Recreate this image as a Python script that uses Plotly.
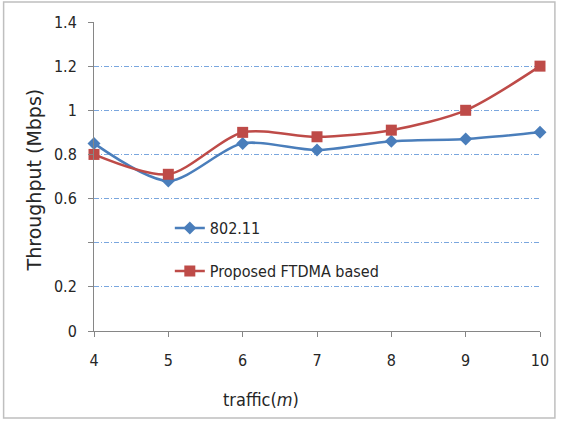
import plotly.graph_objects as go

# Throughput vs. traffic for the two MAC schemes
traffic = [4, 5, 6, 7, 8, 9, 10]
wifi_80211 = [0.85, 0.68, 0.85, 0.82, 0.86, 0.87, 0.90]
ftdma = [0.80, 0.71, 0.90, 0.88, 0.91, 1.00, 1.20]

y_ticks = [0, 0.2, 0.4, 0.6, 0.8, 1.0, 1.2, 1.4]
y_tick_text = ["0", "0.2", "", "0.6", "0.8", "1", "1.2", "1.4"]
x_ticks = [4, 5, 6, 7, 8, 9, 10]

BLUE = "#4a7ebb"
RED = "#be4b48"
NARROW = "Liberation Sans Narrow, DejaVu Sans Condensed, sans-serif"
TICK_FONT = dict(family=NARROW, size=16, color="#262626")

fig = go.Figure()
fig.add_trace(go.Scatter(
    x=traffic, y=wifi_80211, name="802.11", mode="lines+markers",
    line=dict(color=BLUE, width=2.5, shape="spline", smoothing=0.8),
    marker=dict(symbol="diamond", size=10, color=BLUE),
    cliponaxis=False, legend="legend",
))
fig.add_trace(go.Scatter(
    x=traffic, y=ftdma, name="Proposed FTDMA based", mode="lines+markers",
    line=dict(color=RED, width=2.5, shape="spline", smoothing=0.8),
    marker=dict(symbol="square", size=11, color=RED),
    cliponaxis=False, legend="legend2",
))

legend_common = dict(
    bgcolor="rgba(0,0,0,0)", borderwidth=0, xanchor="left", yanchor="middle",
    font=dict(family=NARROW, size=16, color="#262626"),
    itemwidth=30,
)

fig.update_layout(
    width=561, height=421,
    margin=dict(l=94, r=18, t=22, b=90),
    paper_bgcolor="white", plot_bgcolor="white",
    showlegend=True,
    legend=dict(x=0.17, y=(331 - 228) / 309, **legend_common),
    legend2=dict(x=0.17, y=(331 - 271) / 309, **legend_common),
    xaxis=dict(
        range=[4, 10], tickvals=x_ticks, ticks="outside", ticklen=5,
        tickcolor="#868686", showline=True, linecolor="#868686", linewidth=1,
        showgrid=False, zeroline=False, tickfont=TICK_FONT,
        ticklabelstandoff=10,
    ),
    yaxis=dict(
        range=[0, 1.4], tickvals=y_ticks, ticktext=y_tick_text,
        ticks="outside", ticklen=5, tickcolor="#868686",
        showline=True, linecolor="#868686", linewidth=1,
        showgrid=True, gridcolor="#7aa6de", griddash="5px,2px,1px,2px", gridwidth=1,
        zeroline=False, tickfont=TICK_FONT, ticklabelstandoff=8,
    ),
    annotations=[
        dict(
            text="traffic(<i>m</i>)", xref="paper", yref="paper",
            x=(262 - 94) / 449, y=(331 - 400) / 309, xanchor="center", yanchor="middle",
            showarrow=False, font=dict(family=NARROW, size=18, color="#262626"),
        ),
        dict(
            text="Throughput (Mbps)", xref="paper", yref="paper", textangle=-90,
            x=(34 - 94) / 449, y=(331 - 180) / 309, xanchor="center", yanchor="middle",
            showarrow=False,
            font=dict(family="DejaVu Sans, Verdana, sans-serif", size=19, color="#262626"),
        ),
    ],
    shapes=[dict(
        type="rect", xref="paper", yref="paper",
        x0=(3 - 94) / 449, x1=(558 - 94) / 449,
        y0=(331 - 418) / 309, y1=(331 - 2) / 309,
        line=dict(color="#bfbfbf", width=1.5), layer="below",
    )],
)

fig.write_html("out.html")
